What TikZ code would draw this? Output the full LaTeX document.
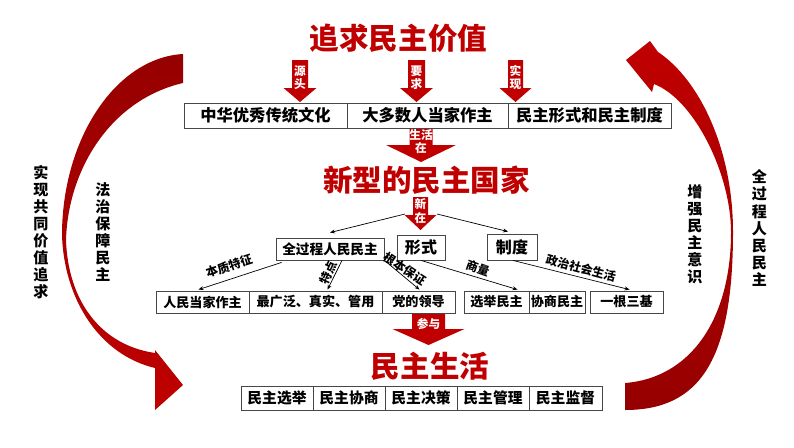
\documentclass[tikz,border=0pt]{standalone}
\usepackage{fontspec}
\setmainfont{Noto Sans CJK SC}
\usetikzlibrary{positioning, calc, arrows.meta}

\definecolor{deepred}{RGB}{192,0,0}
\definecolor{darkred}{RGB}{150,0,0}
\definecolor{boxline}{RGB}{70,70,70}

% red block arrow pointing down: x, y top, y head, y tip, half body, half head
\newcommand\redarrow[6]{%
  \fill[deepred] (#1-#5,#2) -- (#1+#5,#2) -- (#1+#5,#3) -- (#1+#6,#3)
    -- (#1,#4) -- (#1-#6,#3) -- (#1-#5,#3) -- cycle;}

\begin{document}
\begin{tikzpicture}[
  x=0.025cm, y=-0.025cm,
  cell/.style={draw=boxline, line width=0.6pt, fill=white, inner sep=0pt,
    minimum width=#1*0.025cm, text=black},
  rowa/.style={cell=#1, minimum height=25*0.025cm, font=\fontsize{11.6}{13}\selectfont\bfseries},
  rowb/.style={cell=#1, minimum height=22*0.025cm, font=\fontsize{9.3}{11}\selectfont\bfseries},
  rowc/.style={cell=#1, minimum height=24*0.025cm, font=\fontsize{10.5}{12}\selectfont\bfseries},
  title/.style={text=deepred, inner sep=0pt, font=\fontsize{21}{24}\selectfont\bfseries},
  onarrow/.style={text=white, inner sep=0pt, align=center, font=\fontsize{8.3}{9.3}\selectfont\bfseries},
  lbl/.style={inner sep=0pt, font=\fontsize{8.5}{9}\selectfont\bfseries},
  side/.style={inner sep=0pt, align=center, font=\fontsize{10.7}{12.1}\selectfont\bfseries},
  >={Stealth[length=3.5pt, width=2.8pt]}
]
  \fill[white] (0,0) rectangle (794,447);
  \useasboundingbox (0,0) rectangle (794,447);

  % big curved arrows
  \shade[top color=darkred, bottom color=deepred]
    (183,54) .. controls (115,58) and (62,140) .. (62,235)
    .. controls (64,300) and (100,355) .. (155,368)
    -- (155,410) -- (183,385) -- (155,350) -- (155,353)
    .. controls (100,345) and (68,300) .. (66,240)
    .. controls (68,170) and (110,100) .. (183,83) -- cycle;
  \shade[top color=deepred, bottom color=darkred]
    (625,410) .. controls (700,410) and (733,360) .. (733,232)
    .. controls (733,150) and (700,80) .. (658,52)
    -- (650,41) -- (626,60) -- (652,92) -- (654,84)
    .. controls (695,100) and (731,175) .. (731,232)
    .. controls (731,320) and (690,378) .. (625,383) -- cycle;

  % side texts
  \node[side] (goalway) at (41,232) {实\\现\\共\\同\\价\\值\\追\\求};
  \node[side] (law) at (103,232) {法\\治\\保\\障\\民\\主};
  \node[side] (aware) at (695,234) {增\\强\\民\\主\\意\\识};
  \node[side] (whole) at (759.5,228) {全\\过\\程\\人\\民\\民\\主};

  % red block arrows
  \redarrow{300}{60}{88}{102}{8}{16.5}
  \redarrow{416.5}{60}{88}{102}{8.5}{16.5}
  \redarrow{515.5}{60}{88}{102}{7.5}{16}
  \redarrow{421}{126}{145}{162}{11.5}{35}
  \redarrow{420.5}{197}{215}{230}{7.5}{16}
  \redarrow{428.5}{311}{329}{345}{16.5}{36}
  \node[onarrow] (yt) at (300,77.5) {源\\头};
  \node[onarrow] (yq) at (416.5,77.5) {要\\求};
  \node[onarrow] (sx) at (515.5,77.5) {实\\现};
  \node[onarrow] (shz) at (421,142) {生活\\在};
  \node[onarrow] (xz) at (420.5,211) {新\\在};
  \node[onarrow] (cy) at (428.5,324) {参与};

  % titles
  \node[title] (value) at (398.5,38) {追求民主价值};
  \node[title] (state) at (426.5,180) {新型的民主国家};
  \node[title] (life) at (430,366.5) {民主生活};

  % row under the value
  \node[rowa=163] (v1) at (265.5,115.5) {中华优秀传统文化};
  \node[rowa=161] (v2) at (427.5,115.5) {大多数人当家作主};
  \node[rowa=163] (v3) at (589.5,115.5) {民主形式和民主制度};

  % middle boxes
  \node[cell=108, minimum height=22*0.025cm, font=\fontsize{9.7}{11}\selectfont\bfseries]
    (qgc) at (330,249) {全过程人民民主};
  \node[cell=48, minimum height=25*0.025cm, font=\fontsize{11.4}{13}\selectfont\bfseries]
    (xs) at (421,247.5) {形式};
  \node[cell=50, minimum height=26*0.025cm, font=\fontsize{11.4}{13}\selectfont\bfseries]
    (zd) at (512,247) {制度};

  % row of features
  \node[rowb=93] (t1) at (202.5,302) {人民当家作主};
  \node[rowb=133] (t2) at (315.5,302) {最广泛、真实、管用};
  \node[rowb=73] (t3) at (418.5,302) {党的领导};
  \node[rowb=65] (f1) at (496.5,302) {选举民主};
  \node[rowb=56] (f2) at (557,302) {协商民主};
  \node[rowb=73] (s1) at (626.5,302) {一根三基};

  % row of democratic life
  \node[rowc=72] (l1) at (277,398) {民主选举};
  \node[rowc=72] (l2) at (349,398) {民主协商};
  \node[rowc=72] (l3) at (421,398) {民主决策};
  \node[rowc=72] (l4) at (493,398) {民主管理};
  \node[rowc=73] (l5) at (565.5,398) {民主监督};

  % thin arrows
  \coordinate (xzl) at (405,214);
  \coordinate (xzr) at (437,214);
  \draw[->, line width=0.5pt] (xzl) -- ($(qgc.north)+(0,-5)$);
  \draw[->, line width=0.5pt] (xzr) -- ($(zd.north)+(-4,-2)$);
  \draw[->, line width=0.5pt] ($(qgc.south west)+(6,2)$) -- ($(t1.north)+(-4,-1)$);
  \draw[->, line width=0.5pt] ($(qgc.south)+(12,0)$) -- ($(t2.north)+(12,-1)$);
  \draw[->, line width=0.5pt] (qgc.south east) -- ($(t3.north)+(1,-1)$);
  \draw[->, line width=0.5pt] (xs.south) -- ($(f1.north)+(21,-1)$);
  \draw[->, line width=0.5pt] ($(zd.south)+(1,0)$) -- ($(s1.north)+(3,-1)$);
  \node[lbl, rotate=18] (bz) at (229,266) {本质特征};
  \node[lbl, rotate=65] (td) at (328,273) {特点};
  \node[lbl, rotate=-33] (gb) at (405,269) {根本保证};
  \node[lbl, rotate=-20] (sl) at (478,268) {商量};
  \node[lbl, rotate=-15] (zz) at (581,268) {政治社会生活};
\end{tikzpicture}
\end{document}
